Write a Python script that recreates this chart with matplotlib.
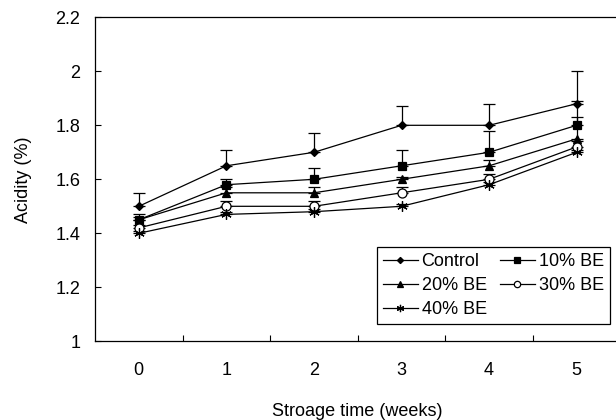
import numpy as np
import matplotlib
matplotlib.use('Agg')
import matplotlib.pyplot as plt

plt.rcParams['font.family'] = ['Liberation Sans', 'DejaVu Sans']
plt.rcParams['font.size'] = 13

weeks = [0, 1, 2, 3, 4, 5]
week_labels = ['0', '1', '2', '3', '4', '5']

control = [1.50, 1.65, 1.70, 1.80, 1.80, 1.88]
be10 = [1.45, 1.58, 1.60, 1.65, 1.70, 1.80]
be20 = [1.45, 1.55, 1.55, 1.60, 1.65, 1.75]
be30 = [1.42, 1.50, 1.50, 1.55, 1.60, 1.72]
be40 = [1.40, 1.47, 1.48, 1.50, 1.58, 1.70]

# upper error bars only (Excel "plus" style)
control_err = [0.05, 0.06, 0.07, 0.07, 0.08, 0.12]
be10_err = [0.02, 0.02, 0.04, 0.06, 0.08, 0.09]
be20_err = [0.01, 0.02, 0.02, 0.01, 0.02, 0.08]
be30_err = [0.01, 0.02, 0.02, 0.02, 0.02, 0.02]
be40_err = [0.01, 0.01, 0.01, 0.01, 0.01, 0.01]

fig = plt.figure(figsize=(6.16, 4.2), dpi=100)
ax = fig.add_axes([95 / 616, 1 - 341.3 / 420, 525.5 / 616, 324 / 420])

series = [
    ('Control', control, control_err, 'D', 4.5, 'black'),
    ('10% BE', be10, be10_err, 's', 6, 'black'),
    ('20% BE', be20, be20_err, '^', 6, 'black'),
    ('30% BE', be30, be30_err, 'o', 6.5, 'white'),
    ('40% BE', be40, be40_err, (6, 2, 0), 7.5, 'black'),
]

handles = {}
for name, vals, err, mk, ms, fc in series:
    ax.errorbar(weeks, vals, yerr=[np.zeros(len(err)), err], fmt='none',
                ecolor='black', elinewidth=0.9, capsize=4, capthick=0.9, zorder=2)
    h, = ax.plot(weeks, vals, color='black', lw=0.9, marker=mk, ms=ms,
                 mfc=fc, mec='black', mew=0.9, label=name, zorder=3)
    handles[name] = h

ax.set_xlim(-0.5, 5.5)
ax.set_ylim(1, 2.2)
ax.set_xticks(weeks)
ax.set_xticklabels(week_labels)
ax.set_xticks([0.5, 1.5, 2.5, 3.5, 4.5], minor=True)
ax.tick_params(axis='x', which='major', length=0, pad=15)
ax.tick_params(axis='x', which='minor', direction='in', length=4.3, width=0.8)
ax.set_yticks([1, 1.2, 1.4, 1.6, 1.8, 2, 2.2])
ax.set_yticklabels(['1', '1.2', '1.4', '1.6', '1.8', '2', '2.2'])
ax.tick_params(axis='y', direction='in', length=4.3, width=0.8, pad=10.5)

for s in ax.spines.values():
    s.set_linewidth(0.9)
    s.set_color('black')

ax.set_xlabel('Stroage time (weeks)', labelpad=17)
ax.set_ylabel('Acidity (%)', labelpad=17)

order = ['Control', '20% BE', '40% BE', '10% BE', '30% BE']
leg = ax.legend([handles[n] for n in order], order, ncol=2, loc='upper left',
                bbox_to_anchor=((377 - 95) / 525.5, (341.3 - 247) / 324),
                borderaxespad=0, fancybox=False, framealpha=1, edgecolor='black',
                markerscale=0.7, handlelength=1.9, handletextpad=0.22,
                columnspacing=0.75, labelspacing=0.38, borderpad=0.35)
leg.get_frame().set_linewidth(0.9)

fig.savefig('out.png', dpi=100)
